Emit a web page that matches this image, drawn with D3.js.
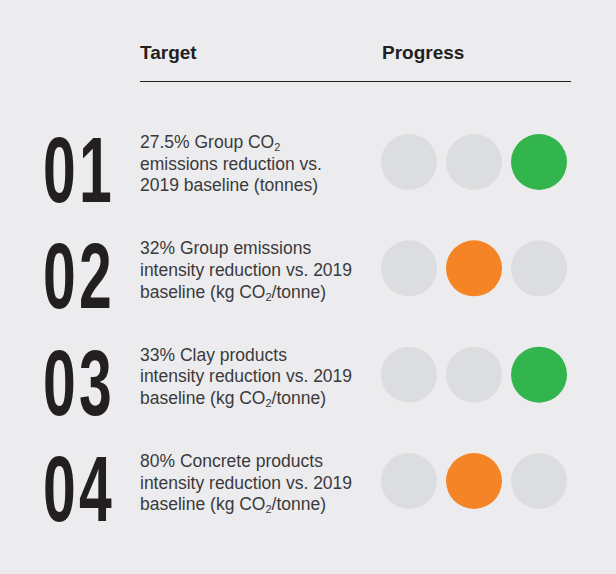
<!DOCTYPE html>
<html>
<head>
<meta charset="utf-8">
<script src="https://cdn.jsdelivr.net/npm/d3@7"></script>
<style>
  body { margin: 0; background: #ececee; }
  svg { display: block; }
</style>
</head>
<body>
<script>
// data
const targetNumbers = ["01", "02", "03", "04"];
const targetLines = [
  ["27.5% Group CO|2|", "emissions reduction vs.", "2019 baseline (tonnes)"],
  ["32% Group emissions", "intensity reduction vs. 2019", "baseline (kg CO|2|/tonne)"],
  ["33% Clay products", "intensity reduction vs. 2019", "baseline (kg CO|2|/tonne)"],
  ["80% Concrete products", "intensity reduction vs. 2019", "baseline (kg CO|2|/tonne)"]
];
// progress stage lit for each target (0,1,2), and its status
const progressStage = [2, 1, 2, 1];
const progressStatus = ["on track", "in progress", "on track", "in progress"];
const headers = ["Target", "Progress"];

const width = 616, height = 574;
const statusColor = d3.scaleOrdinal(["on track", "in progress"], ["#33b54d", "#f58426"]);

const svg = d3.select("body").append("svg")
  .attr("width", width)
  .attr("height", height);

svg.append("rect").attr("width", width).attr("height", height).attr("fill", "#ececee");

const rowY = d3.scalePoint().domain(d3.range(targetNumbers.length)).range([148, 467]);
const dotX = d3.scalePoint().domain([0, 1, 2]).range([409, 539]);

// header
svg.selectAll("text.header")
  .data(headers)
  .join("text")
  .attr("class", "header")
  .attr("x", (d, i) => i === 0 ? 140 : 382)
  .attr("y", 59)
  .attr("font-family", "Liberation Sans, Arial, sans-serif")
  .attr("font-weight", "bold")
  .attr("font-size", 19)
  .attr("fill", "#231f20")
  .text(d => d);

svg.append("line")
  .attr("x1", 140).attr("x2", 571)
  .attr("y1", 81.5).attr("y2", 81.5)
  .attr("stroke", "#231f20")
  .attr("stroke-width", 1.2);

const rows = svg.selectAll("g.row")
  .data(targetNumbers)
  .join("g")
  .attr("class", "row")
  .attr("transform", (d, i) => `translate(0,${rowY(i)})`);

// big numbers, condensed by squeezing horizontally
rows.append("text")
  .attr("transform", "translate(43,54) scale(0.64,1)")
  .attr("font-family", "Liberation Sans Narrow, Liberation Sans, Arial, sans-serif")
  .attr("font-weight", "bold")
  .attr("font-size", 92)
  .attr("letter-spacing", 5)
  .attr("fill", "#231f20")
  .text(d => d);

// target text lines, "|2|" marks a subscript
rows.each(function (d, i) {
  const g = d3.select(this);
  targetLines[i].forEach((line, j) => {
    const t = g.append("text")
      .attr("x", 140)
      .attr("y", j * 21.7)
      .attr("font-family", "Liberation Sans, Arial, sans-serif")
      .attr("font-size", 17.5)
      .attr("fill", "#3a3a3c");
    let shift = 0;
    line.split("|").forEach((part, k) => {
      if (!part) return;
      const sub = k % 2 === 1;
      const dy = sub ? 3 : -shift;
      shift = sub ? 3 : 0;
      t.append("tspan")
        .attr("font-size", sub ? 11 : null)
        .attr("dy", dy || null)
        .text(part);
    });
  });
});

// progress dots
rows.selectAll("circle")
  .data((d, i) => [0, 1, 2].map(k => ({k, on: k === progressStage[i], status: progressStatus[i]})))
  .join("circle")
  .attr("cx", d => dotX(d.k))
  .attr("cy", 14)
  .attr("r", 28)
  .attr("fill", d => d.on ? statusColor(d.status) : "#dcdddf");
</script>
</body>
</html>
